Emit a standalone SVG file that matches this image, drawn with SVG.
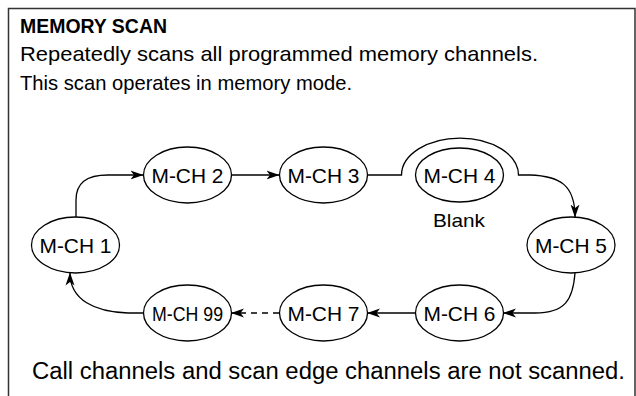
<svg xmlns="http://www.w3.org/2000/svg" width="636" height="396" viewBox="0 0 636 396">
<defs>
<style>
.frame{fill:none;stroke:#333;stroke-width:1.5}
.node ellipse{fill:#fff;stroke:#000;stroke-width:1.3}
.node text{font-family:"Liberation Sans",Arial,sans-serif;font-size:21px;fill:#000;text-anchor:middle}
.lbl{font-family:"Liberation Sans",Arial,sans-serif;fill:#000}
.conn path{fill:none;stroke:#000;stroke-width:1.3}
.dash{stroke-dasharray:6 5}
</style>
<marker id="ah" viewBox="0 -5 13 10" refX="12.5" refY="0" markerWidth="13" markerHeight="10" markerUnits="userSpaceOnUse" orient="auto">
<path d="M0,-4.5 L13,0 L0,4.5 L3.5,0 z" fill="#000"/>
</marker>
</defs>
<rect width="636" height="396" fill="#fff"/>
<path class="frame" d="M8.5 396 V8.5 H635 V396"/>
<g id="texts">
<text class="lbl" x="20" y="33" font-size="19.5" font-weight="bold" textLength="147" lengthAdjust="spacingAndGlyphs">MEMORY SCAN</text>
<text class="lbl" x="20" y="61" font-size="21" textLength="518" lengthAdjust="spacingAndGlyphs">Repeatedly scans all programmed memory channels.</text>
<text class="lbl" x="20" y="90" font-size="21" textLength="332" lengthAdjust="spacingAndGlyphs">This scan operates in memory mode.</text>
<text class="lbl" x="32" y="379" font-size="23" textLength="593" lengthAdjust="spacingAndGlyphs">Call channels and scan edge channels are not scanned.</text>
<text class="lbl" x="459" y="227" font-size="19" text-anchor="middle" textLength="52" lengthAdjust="spacingAndGlyphs">Blank</text>
</g>
<g class="conn" id="connectors">
<path d="M76 217 V200 C76 183 86 175 108 175 H143" marker-end="url(#ah)"/>
<path d="M231.5 175 H279" marker-end="url(#ah)"/>
<path d="M367.5 175 H401.5 A58.5 37 0 0 1 518.5 175 L530 175 C560 176 575 185 575 217" marker-end="url(#ah)"/>
<path d="M575 273 C573 300 565 313 535 313 H503.5" marker-end="url(#ah)"/>
<path d="M415.5 313 H367.5" marker-end="url(#ah)"/>
<path class="dash" d="M279 313 H231.5" marker-end="url(#ah)"/>
<path d="M143 313 H128 C95 312 70 300 70 273" marker-end="url(#ah)"/>
</g>
<g id="n1" class="node"><ellipse cx="75.5" cy="245" rx="44" ry="28"/><text x="75.5" y="252.5" textLength="72" lengthAdjust="spacingAndGlyphs">M-CH 1</text></g>
<g id="n2" class="node"><ellipse cx="187.5" cy="175" rx="44" ry="28"/><text x="187.5" y="182.5" textLength="72" lengthAdjust="spacingAndGlyphs">M-CH 2</text></g>
<g id="n3" class="node"><ellipse cx="323.5" cy="175" rx="44" ry="28"/><text x="323.5" y="182.5" textLength="72" lengthAdjust="spacingAndGlyphs">M-CH 3</text></g>
<g id="n4" class="node"><ellipse cx="459.5" cy="175" rx="44" ry="27"/><text x="459.5" y="182.5" textLength="72" lengthAdjust="spacingAndGlyphs">M-CH 4</text></g>
<g id="n5" class="node"><ellipse cx="571" cy="245" rx="44" ry="28"/><text x="571" y="252.5" textLength="72" lengthAdjust="spacingAndGlyphs">M-CH 5</text></g>
<g id="n6" class="node"><ellipse cx="459.5" cy="313" rx="44" ry="28"/><text x="459.5" y="320.5" textLength="72" lengthAdjust="spacingAndGlyphs">M-CH 6</text></g>
<g id="n7" class="node"><ellipse cx="323.5" cy="313" rx="44" ry="28"/><text x="323.5" y="320.5" textLength="72" lengthAdjust="spacingAndGlyphs">M-CH 7</text></g>
<g id="n99" class="node"><ellipse cx="187.5" cy="313" rx="44" ry="28"/><text x="187.5" y="320.5" textLength="71" lengthAdjust="spacingAndGlyphs">M-CH 99</text></g>
</svg>
